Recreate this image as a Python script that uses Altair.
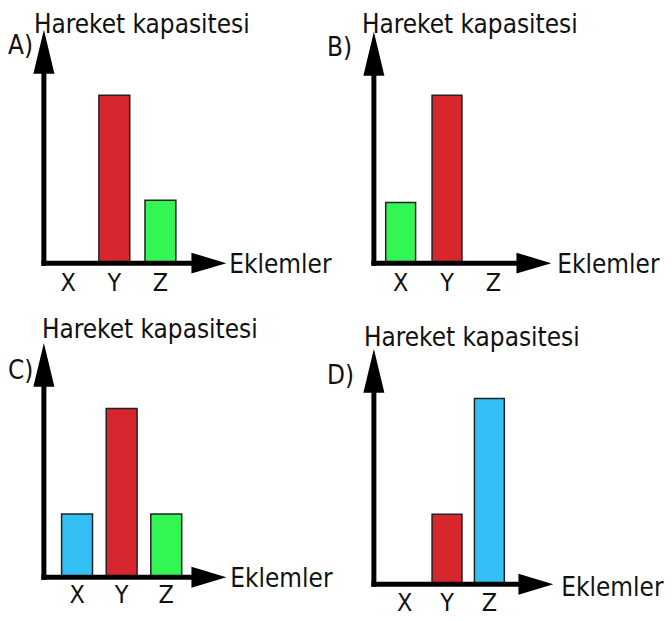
import altair as alt
import pandas as pd

# ---------------- data ----------------
joints = ["X", "Y", "Z"]
option_labels = ["A)", "B)", "C)", "D)"]
y_title = "Hareket kapasitesi"
x_title = "Eklemler"

# bar heights per option (None = no bar for that joint)
values_a = [None, 7.2, 2.7]
values_b = [2.6, 7.2, None]
values_c = [2.7, 7.2, 2.7]
values_d = [None, 2.9, 7.7]

colors_a = [None, "kırmızı", "yeşil"]
colors_b = ["yeşil", "kırmızı", None]
colors_c = ["mavi", "kırmızı", "yeşil"]
colors_d = [None, "kırmızı", "mavi"]

color_names = ["kırmızı", "yeşil", "mavi"]
color_hex = ["#d7262e", "#33f553", "#35c0f5"]

# ---------------- style / layout ----------------
FONT = "DejaVu Sans Condensed"
FS = 26
INK = "#111111"

layout = {
    "A)": dict(w=183, h=234, tip=0, rng=[1.3, 140.0], pi=0.33, lp=7,
               lab=(-36, 24), tit=(-10, 3), ek=(3, 10)),
    "B)": dict(w=178, h=234, tip=2, rng=[3.6, 143.1], pi=0.355, lp=7,
               lab=(-47, 26), tit=(-12, 3), ek=(6, 10)),
    "C)": dict(w=183, h=235, tip=0, rng=[10.9, 145.1], pi=0.307, lp=5,
               lab=(-36, 36), tit=(-2, -5), ek=(4, 10)),
    "D)": dict(w=180, h=242, tip=6, rng=[9.6, 137.1], pi=0.294, lp=6,
               lab=(-47, 41), tit=(-10, 3), ek=(8, 12)),
}

one = pd.DataFrame({"k": [0]})


def panel(label, values, colors):
    L = layout[label]
    w, h, tip = L["w"], L["h"], L["tip"]
    rows = [
        {"eklem": j, "deger": v, "renk": c}
        for j, v, c in zip(joints, values, colors)
        if v is not None
    ]
    df = pd.DataFrame(rows)

    bars = alt.Chart(df).mark_bar(stroke="#222222", strokeWidth=1.5).encode(
        x=alt.X(
            "eklem:N",
            scale=alt.Scale(domain=joints, range=L["rng"],
                            paddingInner=L["pi"], paddingOuter=L["pi"] / 2),
            axis=alt.Axis(title=None, domain=False, ticks=False, tickSize=0,
                          grid=False, labelAngle=0, labelPadding=L["lp"],
                          labelFont=FONT, labelFontSize=25, labelColor=INK),
        ),
        y=alt.Y("deger:Q", scale=alt.Scale(domain=[0, 10]), axis=None),
        color=alt.Color("renk:N", scale=alt.Scale(domain=color_names, range=color_hex),
                        legend=None),
    )

    y_line = alt.Chart(one).mark_rule(color="black", strokeWidth=5, strokeCap="square").encode(
        x=alt.value(0), y=alt.value(tip + 30), y2=alt.value(h)
    )
    x_line = alt.Chart(one).mark_rule(color="black", strokeWidth=5, strokeCap="square").encode(
        x=alt.value(0), x2=alt.value(w - 30), y=alt.value(h)
    )
    y_head = alt.Chart(one).mark_point(
        shape="M0,-1L0.48,1L-0.48,1Z", filled=True, size=44 * 44,
        color="black", opacity=1, strokeWidth=0
    ).encode(x=alt.value(0), y=alt.value(tip + 22))
    x_head = alt.Chart(one).mark_point(
        shape="M1,0L-1,-0.6L-1,0.6Z", filled=True, size=35 * 35,
        color="black", opacity=1, strokeWidth=0
    ).encode(x=alt.value(w - 17.5), y=alt.value(h))

    txt = dict(align="left", baseline="alphabetic", font=FONT, fontSize=FS, color=INK)
    opt_text = alt.Chart(one).mark_text(text=label, **txt).encode(
        x=alt.value(L["lab"][0]), y=alt.value(L["lab"][1])
    )
    y_text = alt.Chart(one).mark_text(text=y_title, **txt).encode(
        x=alt.value(L["tit"][0]), y=alt.value(L["tit"][1])
    )
    x_text = alt.Chart(one).mark_text(text=x_title, **txt).encode(
        x=alt.value(w + L["ek"][0]), y=alt.value(h + L["ek"][1])
    )

    return alt.layer(bars, y_line, x_line, y_head, x_head, opt_text, y_text, x_text).properties(
        width=w, height=h
    )


charts = [
    panel("A)", values_a, colors_a),
    panel("B)", values_b, colors_b),
    panel("C)", values_c, colors_c),
    panel("D)", values_d, colors_d),
]

chart = alt.concat(
    *charts, columns=2, spacing={"row": 80, "column": 148}, bounds="flush"
).properties(
    padding={"left": 0, "top": 3, "right": 0, "bottom": 3},
    background="white",
).configure_view(stroke=None)

chart.save("out.html", embed_options={"renderer": "svg", "actions": False})
